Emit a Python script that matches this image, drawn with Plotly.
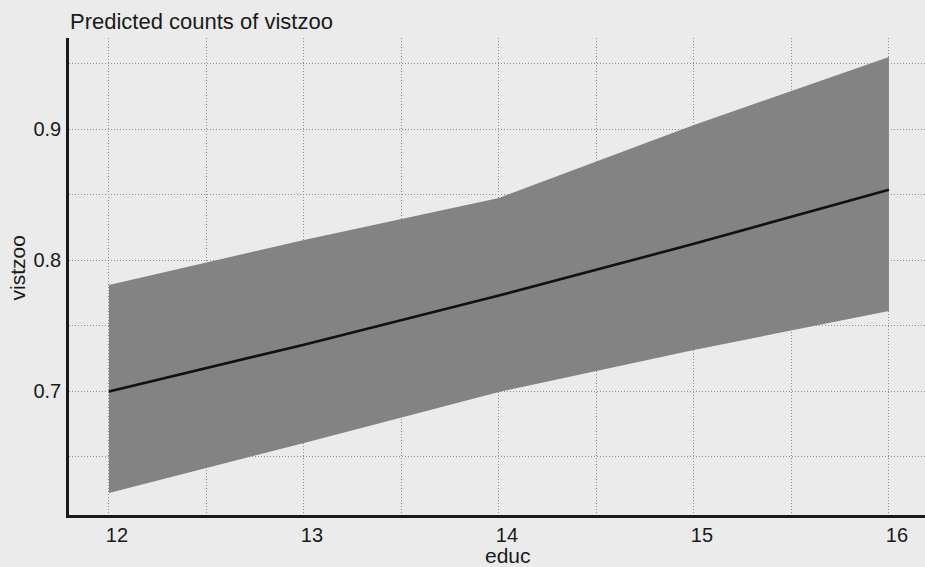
import plotly.graph_objects as go

educ = [12, 13, 14, 15, 16]
predicted = [0.700, 0.7357, 0.7732, 0.8127, 0.854]
upper_ci = [0.7813, 0.8156, 0.8477, 0.9034, 0.9553]
lower_ci = [0.6225, 0.6607, 0.6996, 0.7317, 0.7615]

x_tickvals = [12, 12.5, 13, 13.5, 14, 14.5, 15, 15.5, 16]
x_ticktext = ["12", "", "13", "", "14", "", "15", "", "16"]
y_tickvals = [0.65, 0.7, 0.75, 0.8, 0.85, 0.9, 0.95]
y_ticktext = ["", "0.7", "", "0.8", "", "0.9", ""]

FONT = "Liberation Sans, Arial, Helvetica, sans-serif"
BAND = "#838383"
BG = "#ebebeb"
GRID = "#8f8f8f"

fig = go.Figure()
fig.add_trace(go.Scatter(x=educ, y=lower_ci, mode="lines", line=dict(width=0, color=BAND),
                         showlegend=False, hoverinfo="skip"))
fig.add_trace(go.Scatter(x=educ, y=upper_ci, mode="lines", line=dict(width=0, color=BAND),
                         fill="tonexty", fillcolor=BAND, showlegend=False, hoverinfo="skip"))
fig.add_trace(go.Scatter(x=educ, y=predicted, mode="lines", line=dict(width=2.6, color="#111111"),
                         showlegend=False))

fig.update_layout(
    width=925, height=567,
    margin=dict(l=69, r=0, t=38, b=52),
    paper_bgcolor=BG, plot_bgcolor=BG,
    font=dict(family=FONT, color="#1a1a1a", size=20),
    showlegend=False,
    xaxis=dict(range=[11.795, 16.185], tickvals=x_tickvals, ticktext=x_ticktext,
               showgrid=True, gridcolor=GRID, gridwidth=1, griddash="1px,2px",
               showline=True, linecolor="#1a1a1a", linewidth=2.5,
               ticks="", zeroline=False, tickfont=dict(size=20),
               ticklabelshift=8),
    yaxis=dict(range=[0.6057, 0.9698], tickvals=y_tickvals, ticktext=y_ticktext,
               showgrid=True, gridcolor=GRID, gridwidth=1, griddash="1px,2px",
               showline=True, linecolor="#1a1a1a", linewidth=2.5,
               ticks="", zeroline=False, tickfont=dict(size=20),
               ticklabelstandoff=1),
    annotations=[
        dict(text="Predicted counts of vistzoo", xref="paper", yref="paper",
             x=0, y=1, xshift=-1, yshift=17, xanchor="left", yanchor="middle", showarrow=False,
             font=dict(size=22, family=FONT)),
        dict(text="vistzoo", xref="paper", yref="paper", x=0, y=0.517, xshift=-52,
             xanchor="center", yanchor="middle", textangle=-90, showarrow=False,
             font=dict(size=21, family=FONT)),
        dict(text="educ", xref="x", yref="paper", x=14, y=0, xshift=9, yshift=-40,
             xanchor="center", yanchor="middle", showarrow=False,
             font=dict(size=21, family=FONT)),
    ],
)

fig.write_html(
    "out.html",
    config={"displayModeBar": False},
    post_script="document.body.style.margin='0';document.body.style.background='%s';"
                "document.body.style.overflow='hidden';" % BG,
)
